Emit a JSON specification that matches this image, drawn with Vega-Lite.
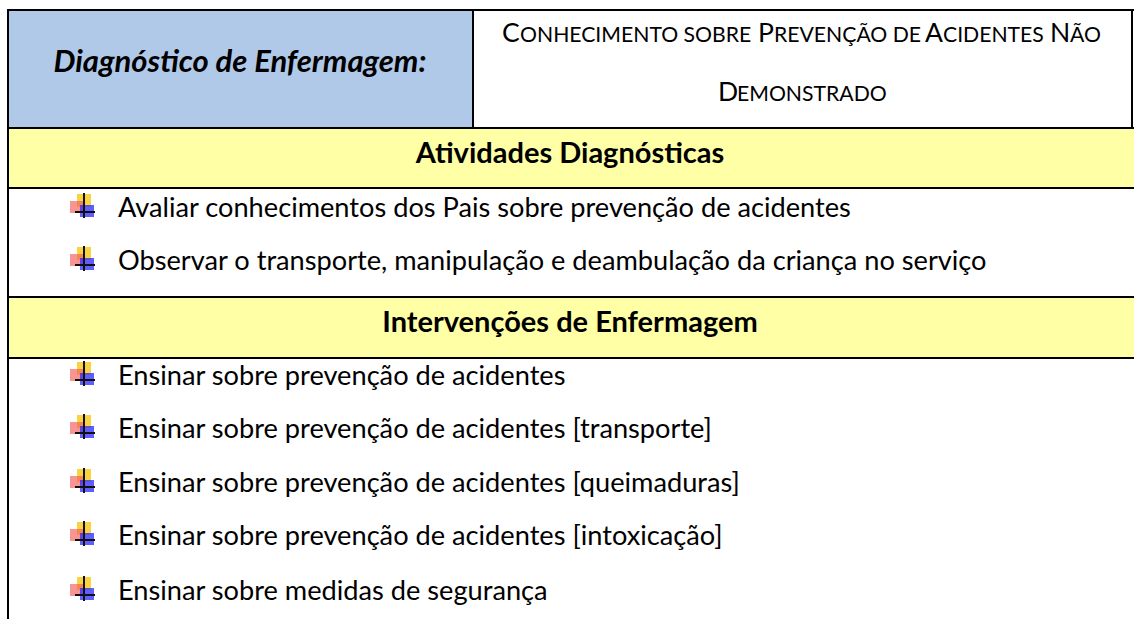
{
  "$schema": "https://vega.github.io/schema/vega-lite/v6.json",
  "width": 1134,
  "height": 619,
  "padding": 0,
  "autosize": {"type": "none"},
  "background": "white",
  "config": {"view": {"stroke": null}, "text": {"font": "Lato"}},
  "datasets": {
    "cells": [
      {"cell": "Diagnóstico", "kind": "diagnostico", "left": 8, "right": 473, "top": 10, "bottom": 128},
      {"cell": "Atividades Diagnósticas", "kind": "secao", "left": 8, "right": 1134, "top": 128, "bottom": 188},
      {"cell": "Intervenções de Enfermagem", "kind": "secao", "left": 8, "right": 1134, "top": 297, "bottom": 358}
    ],
    "borders": [
      {"x1": 7, "x2": 1134, "y1": 10, "y2": 10},
      {"x1": 7, "x2": 1134, "y1": 128, "y2": 128},
      {"x1": 7, "x2": 1134, "y1": 188, "y2": 188},
      {"x1": 7, "x2": 1134, "y1": 297, "y2": 297},
      {"x1": 7, "x2": 1134, "y1": 358, "y2": 358},
      {"x1": 8, "x2": 8, "y1": 9, "y2": 619},
      {"x1": 473, "x2": 473, "y1": 9, "y2": 129},
      {"x1": 1132, "x2": 1132, "y1": 9, "y2": 129}
    ],
    "titles": [
      {"text": "Diagnóstico de Enfermagem:", "role": "label", "x": 240, "y": 72},
      {"text": "Atividades Diagnósticas", "role": "section", "x": 570, "y": 163},
      {"text": "Intervenções de Enfermagem", "role": "section", "x": 570, "y": 332}
    ],
    "smallcaps": [
      {"seg": "C", "case": "big", "x": 502, "y": 42},
      {"seg": "ONHECIMENTO SOBRE", "case": "small", "x": 520, "y": 42},
      {"seg": "P", "case": "big", "x": 758, "y": 42},
      {"seg": "REVENÇÃO DE", "case": "small", "x": 774, "y": 42},
      {"seg": "A", "case": "big", "x": 925, "y": 42},
      {"seg": "CIDENTES", "case": "small", "x": 943, "y": 42},
      {"seg": "N", "case": "big", "x": 1050, "y": 42},
      {"seg": "ÃO", "case": "small", "x": 1070, "y": 42},
      {"seg": "D", "case": "big", "x": 718, "y": 101},
      {"seg": "EMONSTRADO", "case": "small", "x": 737, "y": 101}
    ],
    "items": [
      {"section": "Atividades Diagnósticas", "text": "Avaliar conhecimentos dos Pais sobre prevenção de acidentes", "y": 217},
      {"section": "Atividades Diagnósticas", "text": "Observar o transporte, manipulação e deambulação da criança no serviço", "y": 270},
      {"section": "Intervenções de Enfermagem", "text": "Ensinar sobre prevenção de acidentes", "y": 385},
      {"section": "Intervenções de Enfermagem", "text": "Ensinar sobre prevenção de acidentes [transporte]", "y": 438},
      {"section": "Intervenções de Enfermagem", "text": "Ensinar sobre prevenção de acidentes [queimaduras]", "y": 492},
      {"section": "Intervenções de Enfermagem", "text": "Ensinar sobre prevenção de acidentes [intoxicação]", "y": 545},
      {"section": "Intervenções de Enfermagem", "text": "Ensinar sobre medidas de segurança", "y": 600}
    ]
  },
  "layer": [
    {
      "data": {"name": "cells"},
      "mark": {"type": "rect"},
      "encoding": {
        "x": {"field": "left", "type": "quantitative", "scale": {"domain": [0, 1134], "nice": false, "zero": false}, "axis": null},
        "x2": {"field": "right"},
        "y": {"field": "top", "type": "quantitative", "scale": {"domain": [0, 619], "nice": false, "zero": false, "reverse": true}, "axis": null},
        "y2": {"field": "bottom"},
        "color": {"field": "kind", "type": "nominal", "scale": {"domain": ["diagnostico", "secao"], "range": ["#B1C9E9", "#FFFFA6"]}, "legend": null}
      }
    },
    {
      "data": {"name": "items"},
      "mark": {"type": "rect", "fill": "#F7C600", "opacity": 0.75, "yOffset": -23, "y2Offset": -10},
      "encoding": {"x": {"datum": 77, "type": "quantitative"}, "x2": {"datum": 91}, "y": {"field": "y", "type": "quantitative"}, "y2": {"field": "y"}}
    },
    {
      "data": {"name": "items"},
      "mark": {"type": "rect", "fill": "#F25B5B", "opacity": 0.65, "yOffset": -16, "y2Offset": -4},
      "encoding": {"x": {"datum": 70, "type": "quantitative"}, "x2": {"datum": 83}, "y": {"field": "y", "type": "quantitative"}, "y2": {"field": "y"}}
    },
    {
      "data": {"name": "items"},
      "mark": {"type": "rect", "fill": "#2A2AFF", "opacity": 0.75, "yOffset": -12, "y2Offset": 0},
      "encoding": {"x": {"datum": 80, "type": "quantitative"}, "x2": {"datum": 94}, "y": {"field": "y", "type": "quantitative"}, "y2": {"field": "y"}}
    },
    {
      "data": {"name": "items"},
      "mark": {"type": "rule", "color": "#111111", "strokeWidth": 2, "yOffset": -24, "y2Offset": 1},
      "encoding": {"x": {"datum": 84, "type": "quantitative"}, "y": {"field": "y", "type": "quantitative"}, "y2": {"field": "y"}}
    },
    {
      "data": {"name": "items"},
      "mark": {"type": "rule", "color": "#111111", "strokeWidth": 2, "yOffset": -5, "y2Offset": -5},
      "encoding": {"x": {"datum": 75, "type": "quantitative"}, "x2": {"datum": 95}, "y": {"field": "y", "type": "quantitative"}, "y2": {"field": "y"}}
    },
    {
      "data": {"name": "borders"},
      "mark": {"type": "rule", "color": "black", "strokeWidth": 2},
      "encoding": {
        "x": {"field": "x1", "type": "quantitative"},
        "x2": {"field": "x2"},
        "y": {"field": "y1", "type": "quantitative"},
        "y2": {"field": "y2"}
      }
    },
    {
      "data": {"name": "titles"},
      "transform": [{"filter": "datum.role === 'label'"}],
      "mark": {"type": "text", "align": "center", "baseline": "alphabetic", "fontSize": 31, "fontWeight": "bold", "fontStyle": "italic", "color": "black"},
      "encoding": {"x": {"field": "x", "type": "quantitative"}, "y": {"field": "y", "type": "quantitative"}, "text": {"field": "text"}}
    },
    {
      "data": {"name": "titles"},
      "transform": [{"filter": "datum.role === 'section'"}],
      "mark": {"type": "text", "align": "center", "baseline": "alphabetic", "fontSize": 29, "fontWeight": "bold", "color": "black"},
      "encoding": {"x": {"field": "x", "type": "quantitative"}, "y": {"field": "y", "type": "quantitative"}, "text": {"field": "text"}}
    },
    {
      "data": {"name": "smallcaps"},
      "mark": {"type": "text", "align": "left", "baseline": "alphabetic", "color": "black"},
      "encoding": {
        "x": {"field": "x", "type": "quantitative"},
        "y": {"field": "y", "type": "quantitative"},
        "text": {"field": "seg"},
        "size": {"field": "case", "type": "nominal", "scale": {"domain": ["big", "small"], "range": [26.5, 21.2]}, "legend": null}
      }
    },
    {
      "data": {"name": "items"},
      "mark": {"type": "text", "align": "left", "baseline": "alphabetic", "fontSize": 27.2, "color": "black"},
      "encoding": {"x": {"datum": 118, "type": "quantitative"}, "y": {"field": "y", "type": "quantitative"}, "text": {"field": "text"}}
    }
  ]
}
